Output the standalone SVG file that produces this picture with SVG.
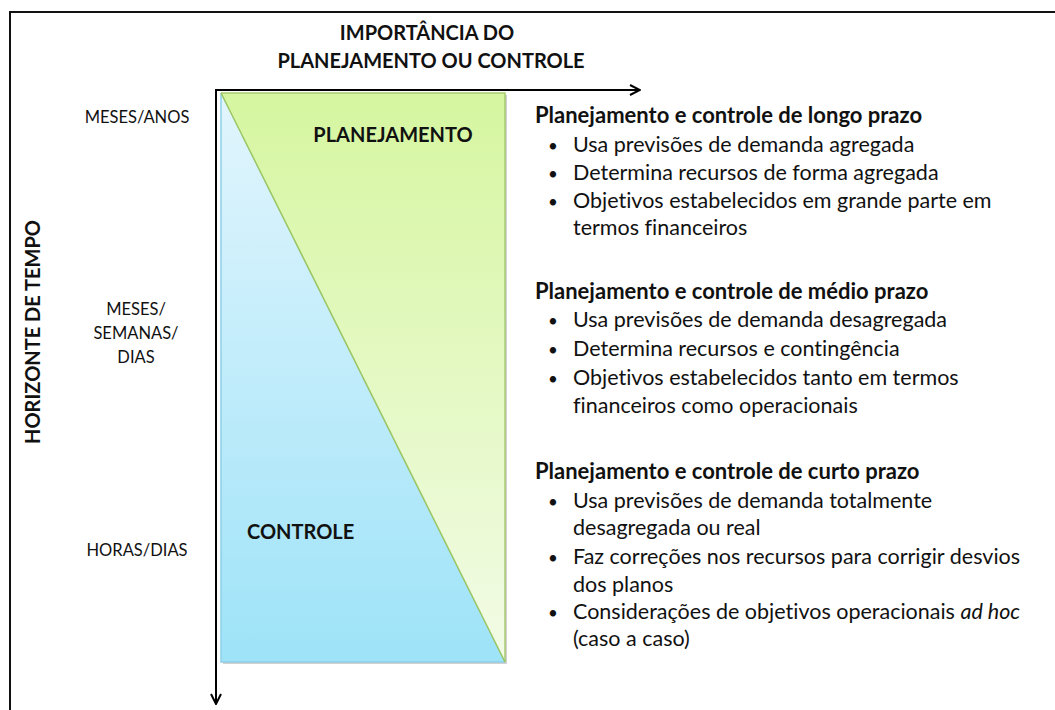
<svg xmlns="http://www.w3.org/2000/svg" width="1055" height="710" viewBox="0 0 1055 710">
  <style>
    text { font-family: Lato, "Liberation Sans", sans-serif; fill: #111; font-variant-ligatures: none; }
    .axlab { font-size: 20px; font-weight: bold; }
    .tick { font-size: 16.5px; text-anchor: middle; }
    .area { font-size: 20px; font-weight: bold; }
    .head { font-size: 22px; font-weight: bold; }
    .item { font-size: 21.5px; }
    .dot { font-size: 17px; }
    .ax { stroke: #000; stroke-width: 2; fill: none; }
  </style>
  <defs>
    <linearGradient id="gGreen" x1="0" y1="0" x2="0" y2="1">
      <stop offset="0" stop-color="#d6f6a0"/>
      <stop offset="1" stop-color="#f2fbe6"/>
    </linearGradient>
    <linearGradient id="gBlue" x1="0" y1="0" x2="0" y2="1">
      <stop offset="0" stop-color="#e2f5fd"/>
      <stop offset="1" stop-color="#9ee3f8"/>
    </linearGradient>
    <marker id="arr" viewBox="0 0 12 12" refX="11" refY="6" markerWidth="12" markerHeight="12" markerUnits="userSpaceOnUse" orient="auto">
      <path d="M1,1 L11,6 L1,11" fill="none" stroke="#000" stroke-width="2"/>
    </marker>
  </defs>

  <rect id="frame" x="10" y="12" width="1100" height="800" fill="none" stroke="#111" stroke-width="2"/>

  <g id="chart">
    <rect x="223" y="95" width="284" height="569" fill="#000" opacity="0.18"/>
    <polygon points="221,93 505,93 505,662" fill="url(#gGreen)"/>
    <polygon points="221,93 221,662 505,662" fill="url(#gBlue)"/>
    <polyline points="221,93 505,93 505,662" fill="none" stroke="#a8cc70" stroke-width="1.5"/>
    <polyline points="221,93 221,662 505,662" fill="none" stroke="#8fd0e8" stroke-width="1.5"/>
    <line x1="221" y1="93" x2="505" y2="662" stroke="#98c462" stroke-width="1.5"/>
  </g>

  <g id="connectors">
    <line class="ax" x1="216" y1="90" x2="640" y2="90" marker-end="url(#arr)"/>
    <line class="ax" x1="216" y1="89" x2="216" y2="704" marker-end="url(#arr)"/>
  </g>

  <g id="title-x">
    <text class="axlab" x="427" y="40" text-anchor="middle">IMPORTÂNCIA DO</text>
    <text class="axlab" x="431" y="68" text-anchor="middle">PLANEJAMENTO OU CONTROLE</text>
  </g>

  <g id="title-y">
    <text class="axlab" transform="translate(40,332) rotate(-90)" text-anchor="middle">HORIZONTE DE TEMPO</text>
  </g>

  <g id="ticks">
    <text class="tick" x="137" y="123">MESES/ANOS</text>
    <text class="tick" x="136" y="315">MESES/</text>
    <text class="tick" x="136" y="339">SEMANAS/</text>
    <text class="tick" x="136" y="363">DIAS</text>
    <text class="tick" x="137" y="556">HORAS/DIAS</text>
  </g>

  <g id="planejamento">
    <text class="area" x="393" y="142" text-anchor="middle">PLANEJAMENTO</text>
  </g>
  <g id="controle">
    <text class="area" x="247" y="539">CONTROLE</text>
  </g>

  <g id="longo">
    <text class="head" x="535" y="123">Planejamento e controle de longo prazo</text>
    <text class="dot" x="548" y="152">•</text><text class="item" x="573" y="152">Usa previsões de demanda agregada</text>
    <text class="dot" x="548" y="180">•</text><text class="item" x="573" y="180">Determina recursos de forma agregada</text>
    <text class="dot" x="548" y="208">•</text><text class="item" x="573" y="208">Objetivos estabelecidos em grande parte em</text>
    <text class="item" x="573" y="235">termos financeiros</text>
  </g>

  <g id="medio">
    <text class="head" x="535" y="299">Planejamento e controle de médio prazo</text>
    <text class="dot" x="548" y="327">•</text><text class="item" x="573" y="327">Usa previsões de demanda desagregada</text>
    <text class="dot" x="548" y="356">•</text><text class="item" x="573" y="356">Determina recursos e contingência</text>
    <text class="dot" x="548" y="385">•</text><text class="item" x="573" y="385">Objetivos estabelecidos tanto em termos</text>
    <text class="item" x="573" y="413">financeiros como operacionais</text>
  </g>

  <g id="curto">
    <text class="head" x="535" y="479">Planejamento e controle de curto prazo</text>
    <text class="dot" x="548" y="508">•</text><text class="item" x="573" y="508">Usa previsões de demanda totalmente</text>
    <text class="item" x="573" y="535">desagregada ou real</text>
    <text class="dot" x="548" y="564">•</text><text class="item" x="573" y="564">Faz correções nos recursos para corrigir desvios</text>
    <text class="item" x="573" y="592">dos planos</text>
    <text class="dot" x="548" y="619">•</text><text class="item" x="573" y="619">Considerações de objetivos operacionais <tspan font-style="italic">ad hoc</tspan></text>
    <text class="item" x="573" y="646">(caso a caso)</text>
  </g>
</svg>
